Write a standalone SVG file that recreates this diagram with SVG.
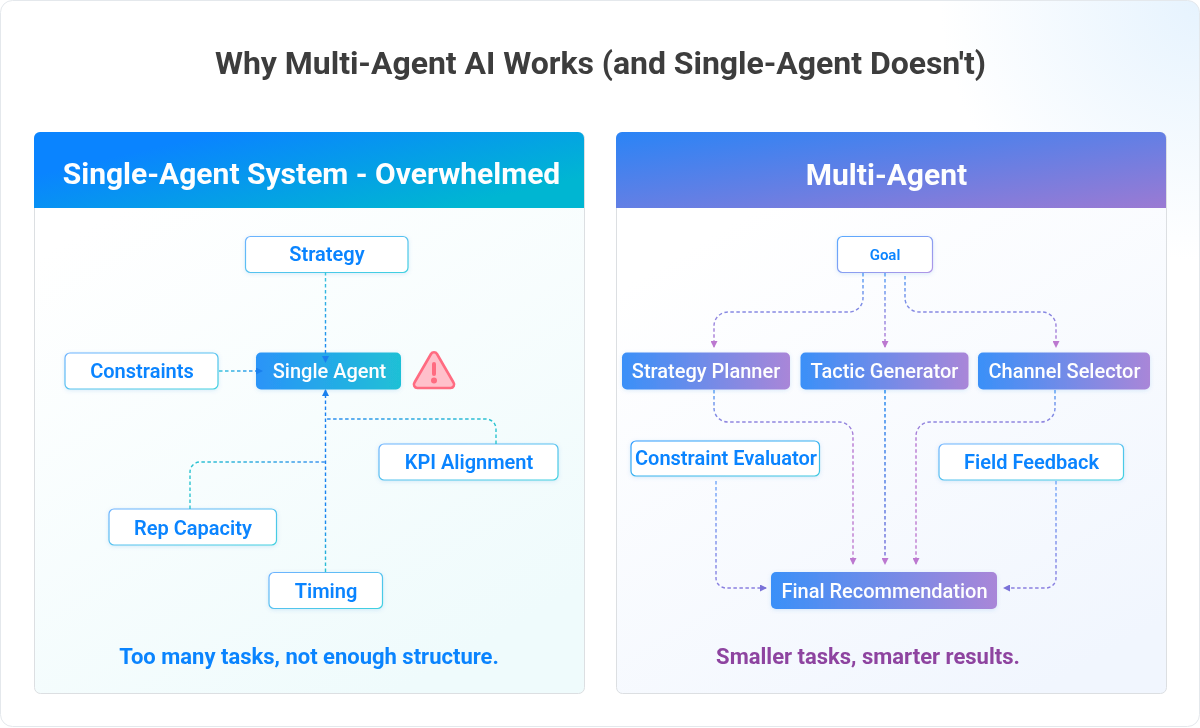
<svg xmlns="http://www.w3.org/2000/svg" width="1200" height="728" viewBox="0 0 1200 728">
<defs>
<radialGradient id="bgR" gradientUnits="userSpaceOnUse" cx="1200" cy="0" r="260"><stop offset="0" stop-color="#e6f3fe"/><stop offset="1" stop-color="#ffffff"/></radialGradient>
<linearGradient id="hdrL" x1="0" y1="0" x2="1" y2="0.6"><stop offset="0" stop-color="#0a84ff"/><stop offset="0.25" stop-color="#0a84ff"/><stop offset="1" stop-color="#00b6d2"/></linearGradient>
<linearGradient id="hdrR" x1="0" y1="0" x2="1" y2="1" gradientUnits="objectBoundingBox"><stop offset="0" stop-color="#2a84f6"/><stop offset="1" stop-color="#9b7ad3"/></linearGradient>
<linearGradient id="panL" gradientUnits="userSpaceOnUse" x1="120" y1="207" x2="400" y2="693"><stop offset="0" stop-color="#ffffff"/><stop offset="1" stop-color="#effbfc"/></linearGradient>
<linearGradient id="panR" gradientUnits="userSpaceOnUse" x1="760" y1="207" x2="1040" y2="693"><stop offset="0" stop-color="#ffffff"/><stop offset="1" stop-color="#f1f6fe"/></linearGradient>
<linearGradient id="solL" x1="0" y1="0" x2="1" y2="0"><stop offset="0" stop-color="#2a94f8"/><stop offset="1" stop-color="#1fc0d6"/></linearGradient>
<linearGradient id="solR" x1="0" y1="0" x2="1" y2="0"><stop offset="0" stop-color="#3a90f8"/><stop offset="1" stop-color="#a986d8"/></linearGradient>
<linearGradient id="strL" x1="0" y1="0" x2="1" y2="1"><stop offset="0" stop-color="#6db3ff"/><stop offset="1" stop-color="#3fd0e0"/></linearGradient>
<linearGradient id="strR" x1="0" y1="0" x2="1" y2="1"><stop offset="0" stop-color="#5aa9ff"/><stop offset="1" stop-color="#b095e6"/></linearGradient>
<linearGradient id="strC" x1="0" y1="0" x2="1" y2="1"><stop offset="0" stop-color="#2f9bff"/><stop offset="1" stop-color="#3fc8e0"/></linearGradient>
<linearGradient id="c1" gradientUnits="userSpaceOnUse" x1="0" y1="272" x2="0" y2="353"><stop offset="0" stop-color="#3cc6dc"/><stop offset="1" stop-color="#1a86f0"/></linearGradient>
<linearGradient id="c2" gradientUnits="userSpaceOnUse" x1="218" y1="0" x2="262" y2="0"><stop offset="0" stop-color="#3cc6dc"/><stop offset="1" stop-color="#2a8cf0"/></linearGradient>
<linearGradient id="c3" gradientUnits="userSpaceOnUse" x1="0" y1="572" x2="0" y2="390"><stop offset="0" stop-color="#2cc4d0"/><stop offset="0.3" stop-color="#1a86f0"/><stop offset="1" stop-color="#1a7ff0"/></linearGradient>
<linearGradient id="c4" gradientUnits="userSpaceOnUse" x1="190" y1="0" x2="326" y2="0"><stop offset="0" stop-color="#2cc4d0"/><stop offset="1" stop-color="#3f94f0"/></linearGradient>
<linearGradient id="c5" gradientUnits="userSpaceOnUse" x1="496" y1="0" x2="326" y2="0"><stop offset="0" stop-color="#2cc4d0"/><stop offset="1" stop-color="#2c8cf0"/></linearGradient>
<linearGradient id="d1" gradientUnits="userSpaceOnUse" x1="0" y1="273" x2="0" y2="346"><stop offset="0" stop-color="#4f9cf5"/><stop offset="1" stop-color="#b878d2"/></linearGradient>
<linearGradient id="d2" gradientUnits="userSpaceOnUse" x1="0" y1="390" x2="0" y2="563"><stop offset="0" stop-color="#4f9cf5"/><stop offset="0.3" stop-color="#b878d2"/><stop offset="1" stop-color="#c07ccf"/></linearGradient>
<linearGradient id="d3" gradientUnits="userSpaceOnUse" x1="0" y1="390" x2="0" y2="563"><stop offset="0" stop-color="#1a86f0"/><stop offset="1" stop-color="#7a6fd8"/></linearGradient>
<linearGradient id="d4" gradientUnits="userSpaceOnUse" x1="0" y1="478" x2="0" y2="588"><stop offset="0" stop-color="#6fa8fb"/><stop offset="1" stop-color="#8a7fe0"/></linearGradient>
<filter id="sh" x="-10%" y="-20%" width="120%" height="150%"><feDropShadow dx="0" dy="1" stdDeviation="2" flood-color="#1a6fd0" flood-opacity="0.14"/></filter>
<marker id="aB" markerUnits="userSpaceOnUse" markerWidth="7" markerHeight="7" refX="6" refY="3.5" orient="auto"><path d="M0 0L7 3.5L0 7Z" fill="#1a80ee"/></marker>
<marker id="aP" markerUnits="userSpaceOnUse" markerWidth="7" markerHeight="7" refX="6" refY="3.5" orient="auto"><path d="M0 0L7 3.5L0 7Z" fill="#bc78d0"/></marker>
<marker id="aV" markerUnits="userSpaceOnUse" markerWidth="7" markerHeight="7" refX="6" refY="3.5" orient="auto"><path d="M0 0L7 3.5L0 7Z" fill="#7a72d8"/></marker>
</defs>
<style>
text{font-family:Roboto,"Liberation Sans",sans-serif;text-anchor:middle;opacity:.995}
.t{font-size:32px;font-weight:700;fill:#3d3d3d}
.h{font-size:30px;font-weight:700;fill:#fff}
.lab{font-size:20px;font-weight:600;fill:#0a84ff}
.sol{font-size:20px;font-weight:500;fill:#fff}
.foot{font-size:22px;font-weight:700}
.n{fill:#fff;filter:url(#sh)}
.s{filter:url(#sh)}
.cn{fill:none;stroke-width:1.4;stroke-dasharray:3.500 2.500}
</style>
<rect x="0.5" y="0.5" width="1199" height="726" rx="12" fill="#fff"/>
<rect x="0.5" y="0.5" width="1199" height="726" rx="12" fill="url(#bgR)" stroke="#e4e8ec"/>
<text class="t" x="600.5" y="74" textLength="771">Why Multi-Agent AI Works (and Single-Agent Doesn't)</text>

<g id="panel-left">
<rect x="34.5" y="132.5" width="550" height="561" rx="6" fill="url(#panL)" stroke="#dcdfe2"/>
<path d="M34 208V138a6 6 0 0 1 6-6H578a6 6 0 0 1 6 6V208Z" fill="url(#hdrL)"/>
<text class="h" x="311.500" y="183.500">Single-Agent System - Overwhelmed</text>
<text class="foot" x="309" y="664" style="fill:#0a84ff">Too many tasks, not enough structure.</text>
</g>
<g id="panel-right">
<rect x="616.5" y="132.5" width="550" height="561" rx="6" fill="url(#panR)" stroke="#dcdfe2"/>
<path d="M616 208V138a6 6 0 0 1 6-6H1160a6 6 0 0 1 6 6V208Z" fill="url(#hdrR)"/>
<text class="h" x="886.500" y="184.500">Multi-Agent</text>
<text class="foot" x="868" y="664" style="fill:#8e44a0">Smaller tasks, smarter results.</text>
</g>

<g id="node-strategy"><rect class="n" x="245.5" y="236.5" width="162.500" height="36" rx="5" stroke="url(#strL)" stroke-width="1.2"/><text class="lab" x="327" y="261">Strategy</text></g>
<g id="node-constraints"><rect class="n" x="65" y="353" width="153" height="36" rx="5" stroke="url(#strL)" stroke-width="1.2"/><text class="lab" x="142" y="378">Constraints</text></g>
<g id="node-single-agent"><rect class="s" x="256" y="352.500" width="145" height="37" rx="5" fill="url(#solL)"/><text class="sol" x="329.500" y="378">Single Agent</text></g>
<g id="node-warning">
<path d="M431 354a3.500 3.500 0 0 1 6 0L453.500 382.500a3.500 3.500 0 0 1-3 5.500H417.500a3.500 3.500 0 0 1-3-5.500Z" fill="#ffc0cb" stroke="#ff6b81" stroke-width="2.600" stroke-linejoin="round"/>
<path d="M434 364V374" stroke="#ff6b81" stroke-width="4" stroke-linecap="round"/><circle cx="434" cy="380.500" r="3" fill="#ff6b81"/>
</g>
<g id="node-kpi"><rect class="n" x="379" y="444" width="179" height="36" rx="5" stroke="url(#strL)" stroke-width="1.2"/><text class="lab" x="469" y="469">KPI Alignment</text></g>
<g id="node-rep"><rect class="n" x="109" y="509" width="167.500" height="36" rx="5" stroke="url(#strL)" stroke-width="1.2"/><text class="lab" x="193" y="534.500">Rep Capacity</text></g>
<g id="node-timing"><rect class="n" x="269" y="572.500" width="113.500" height="36" rx="5" stroke="url(#strL)" stroke-width="1.2"/><text class="lab" x="326" y="597.500">Timing</text></g>

<g id="node-goal"><rect class="n" x="837.500" y="236.500" width="95" height="36" rx="5" stroke="url(#strR)" stroke-width="1.2"/><text x="885" y="260" style="font-size:15px;font-weight:600;fill:#0a84ff">Goal</text></g>
<g id="node-planner"><rect class="s" x="622" y="352.500" width="168" height="37" rx="5" fill="url(#solR)"/><text class="sol" x="706" y="378">Strategy Planner</text></g>
<g id="node-tactic"><rect class="s" x="800.500" y="352.500" width="168" height="37" rx="5" fill="url(#solR)"/><text class="sol" x="884.500" y="378">Tactic Generator</text></g>
<g id="node-channel"><rect class="s" x="978" y="352.500" width="172" height="37" rx="5" fill="url(#solR)"/><text class="sol" x="1064.500" y="378">Channel Selector</text></g>
<g id="node-evaluator"><rect class="n" x="631" y="441" width="188.500" height="35" rx="5" stroke="url(#strC)" stroke-width="1.2"/><text class="lab" x="726" y="465">Constraint Evaluator</text></g>
<g id="node-feedback"><rect class="n" x="939" y="444" width="184.500" height="36" rx="5" stroke="url(#strL)" stroke-width="1.2"/><text class="lab" x="1031.500" y="469">Field Feedback</text></g>
<g id="node-final"><rect class="s" x="771" y="572" width="226" height="37" rx="5" fill="url(#solR)"/><text class="sol" x="884.500" y="597.500">Final Recommendation</text></g>

<g id="connectors">
<path class="cn" stroke="url(#c1)" marker-end="url(#aB)" d="M325.500 272V362"/>
<path class="cn" stroke="url(#c2)" marker-end="url(#aB)" d="M219 371H262"/>
<path class="cn" stroke="url(#c3)" marker-end="url(#aB)" d="M325.500 572V390"/>
<path class="cn" stroke="url(#c4)" d="M190 509V472a10 10 0 0 1 10-10H325"/>
<path class="cn" stroke="url(#c5)" d="M496 444V429a10 10 0 0 0-10-10H326"/>
<path class="cn" stroke="url(#d1)" marker-end="url(#aP)" d="M863 273V298a14 14 0 0 1-14 14H728a14 14 0 0 0-14 14V347"/>
<path class="cn" stroke="url(#d1)" marker-end="url(#aP)" d="M885 273V347"/>
<path class="cn" stroke="url(#d1)" marker-end="url(#aP)" d="M905 276V298a14 14 0 0 0 14 14H1042a14 14 0 0 1 14 14V347"/>
<path class="cn" stroke="url(#d2)" marker-end="url(#aP)" d="M714 390V408a14 14 0 0 0 14 14H839a14 14 0 0 1 14 14V564"/>
<path class="cn" stroke="url(#d3)" marker-end="url(#aP)" d="M885 390V564"/>
<path class="cn" stroke="url(#d2)" marker-end="url(#aP)" d="M1055 390V408a14 14 0 0 1-14 14H930a14 14 0 0 0-14 14V564"/>
<path class="cn" stroke="url(#d4)" marker-end="url(#aV)" d="M716 481V578a10 10 0 0 0 10 10H766"/>
<path class="cn" stroke="url(#d4)" marker-end="url(#aV)" d="M1056 481V578a10 10 0 0 1-10 10H1004"/>
</g>
</svg>
